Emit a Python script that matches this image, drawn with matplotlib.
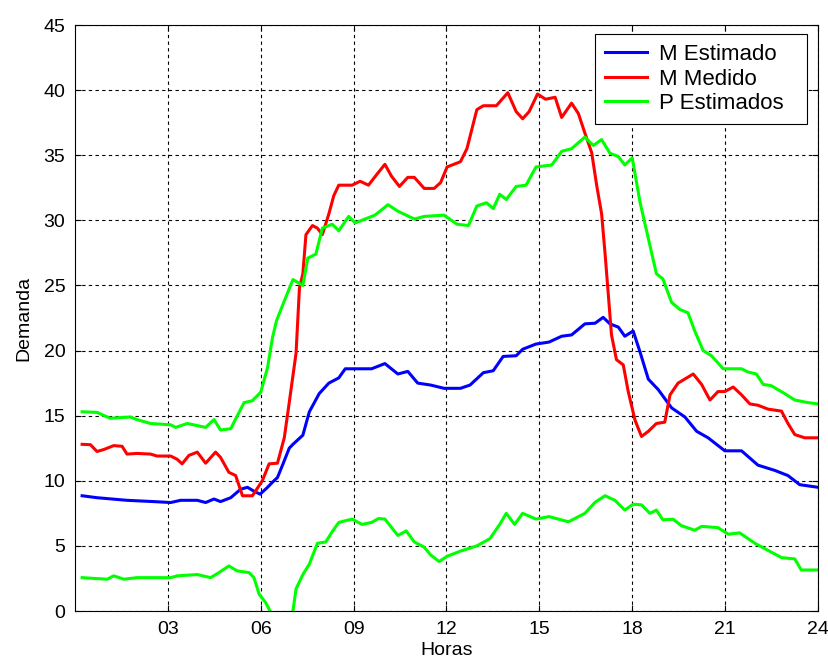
import numpy as np
import matplotlib
matplotlib.use("Agg")
import matplotlib.pyplot as plt

# ---------------------------------------------------
# DATA
# ---------------------------------------------------

xticks = [3, 6, 9, 12, 15, 18, 21, 24]
xtick_labels = ["03", "06", "09", "12", "15", "18", "21", "24"]
yticks = [0, 5, 10, 15, 20, 25, 30, 35, 40, 45]

# M Estimado
est_h = [0.23, 0.71, 1.68, 2.55, 3.09, 3.41, 3.95, 4.22, 4.49, 4.7, 5.03, 5.35,
         5.57, 5.78, 5.98, 6.22, 6.4, 6.54, 6.72, 6.92, 7.04, 7.36, 7.57, 7.89,
         8.2, 8.52, 8.73, 9.58, 10.01, 10.43, 10.75, 11.07, 11.49, 11.92, 12.45,
         12.76, 13.19, 13.51, 13.83, 14.25, 14.46, 14.89, 15.31, 15.72, 16.04,
         16.47, 16.8, 17.06, 17.28, 17.55, 17.76, 18.03, 18.25, 18.52, 18.84,
         19.27, 19.7, 20.08, 20.45, 20.99, 21.53, 22.06, 22.6, 23.03, 23.41, 24.0]
est_v = [8.85, 8.7, 8.5, 8.4, 8.33, 8.5, 8.5, 8.33, 8.6, 8.4, 8.7, 9.35,
         9.5, 9.2, 8.97, 9.5, 9.94, 10.25, 11.3, 12.5, 12.8, 13.5, 15.3, 16.7,
         17.5, 17.9, 18.6, 18.6, 19.0, 18.2, 18.4, 17.5, 17.35, 17.1, 17.1,
         17.35, 18.3, 18.45, 19.55, 19.6, 20.1, 20.5, 20.65, 21.1, 21.2,
         22.05, 22.1, 22.55, 22.05, 21.8, 21.1, 21.5, 19.9, 17.8, 17.0,
         15.6, 14.9, 13.8, 13.3, 12.3, 12.3, 11.2, 10.8, 10.4, 9.7, 9.5]

# M Medido
med_h = [0.23, 0.5, 0.71, 0.93, 1.25, 1.52, 1.68, 2.0, 2.44, 2.65, 3.09, 3.3,
         3.46, 3.68, 3.95, 4.22, 4.54, 4.7, 4.97, 5.19, 5.41, 5.73, 6.05, 6.27,
         6.54, 6.76, 6.92, 7.14, 7.25, 7.36, 7.46, 7.67, 7.83, 7.99, 8.2, 8.36,
         8.52, 8.95, 9.21, 9.48, 9.74, 10.01, 10.22, 10.48, 10.75, 10.96, 11.28,
         11.6, 11.81, 12.02, 12.45, 12.66, 12.98, 13.19, 13.61, 13.98, 14.25,
         14.46, 14.67, 14.94, 15.2, 15.51, 15.72, 16.04, 16.26, 16.47, 16.69,
         16.85, 17.01, 17.12, 17.23, 17.33, 17.49, 17.71, 17.87, 18.09, 18.3,
         18.52, 18.78, 19.05, 19.22, 19.48, 19.97, 20.24, 20.51, 20.77, 20.99,
         21.26, 21.53, 21.8, 22.06, 22.39, 22.82, 23.03, 23.25, 23.57, 24.0]
med_v = [12.8, 12.77, 12.25, 12.4, 12.7, 12.65, 12.05, 12.1, 12.05, 11.9, 11.9, 11.65,
         11.3, 11.95, 12.2, 11.35, 12.2, 11.8, 10.65, 10.4, 8.85, 8.85, 10.0, 11.3,
         11.35, 13.3, 16.0, 19.8, 24.8, 25.9, 28.9, 29.6, 29.4, 28.9, 30.5, 31.9,
         32.7, 32.7, 33.0, 32.7, 33.5, 34.3, 33.4, 32.6, 33.3, 33.3, 32.45,
         32.45, 32.9, 34.1, 34.5, 35.5, 38.5, 38.8, 38.8, 39.8, 38.35,
         37.8, 38.35, 39.7, 39.3, 39.45, 37.9, 39.0, 38.2, 36.7, 35.2,
         32.7, 30.5, 27.5, 24.2, 21.2, 19.3, 18.9, 16.85, 14.65, 13.4,
         13.8, 14.4, 14.5, 16.6, 17.5, 18.2, 17.4, 16.2, 16.85, 16.85,
         17.2, 16.6, 15.9, 15.8, 15.5, 15.35, 14.4, 13.55, 13.3, 13.3]

# P Estimados (upper band)
p_up_h = [0.23, 0.71, 1.14, 1.79, 2.0, 2.44, 3.09, 3.25, 3.63, 4.22, 4.49, 4.7,
          5.03, 5.46, 5.73, 6.0, 6.22, 6.38, 6.51, 6.76, 7.04, 7.36, 7.52, 7.78,
          7.99, 8.31, 8.52, 8.84, 9.05, 9.69, 10.11, 10.43, 10.96, 11.28, 11.92,
          12.34, 12.71, 12.98, 13.29, 13.51, 13.72, 13.93, 14.25, 14.57, 14.89,
          15.4, 15.72, 16.04, 16.47, 16.74, 17.01, 17.28, 17.55, 17.76, 18.0,
          18.25, 18.52, 18.78, 18.99, 19.27, 19.54, 19.8, 20.02, 20.29, 20.56,
          20.94, 21.53, 21.74, 22.01, 22.23, 22.49, 22.92, 23.25, 23.68, 24.0]
p_up_v = [15.3, 15.25, 14.8, 14.9, 14.7, 14.4, 14.3, 14.1, 14.4, 14.1, 14.7, 13.9,
          14.0, 16.0, 16.15, 16.8, 18.7, 21.0, 22.3, 23.8, 25.45, 25.0, 27.1, 27.4,
          29.4, 29.7, 29.2, 30.3, 29.8, 30.4, 31.2, 30.7, 30.1, 30.3, 30.4,
          29.7, 29.6, 31.1, 31.35, 30.9, 32.0, 31.6, 32.6, 32.7, 34.1,
          34.25, 35.3, 35.5, 36.4, 35.75, 36.2, 35.15, 34.9, 34.25, 34.8,
          31.4, 28.6, 25.9, 25.5, 23.7, 23.15, 22.9, 21.5, 20.0, 19.6,
          18.6, 18.6, 18.35, 18.2, 17.4, 17.3, 16.7, 16.2, 16.0, 15.9]

# P Estimados (lower band)
p_lo_h = [0.23, 1.04, 1.25, 1.58, 2.0, 3.09, 3.3, 3.95, 4.38, 4.65, 4.97, 5.24,
          5.62, 5.78, 5.95, 6.16, 6.27, 6.5, 6.8, 7.04, 7.14, 7.36, 7.57, 7.83,
          8.1, 8.31, 8.52, 8.95, 9.27, 9.58, 9.8, 10.01, 10.43, 10.7, 10.96,
          11.28, 11.49, 11.76, 12.02, 12.45, 12.98, 13.4, 13.72, 13.93, 14.2,
          14.46, 14.89, 15.31, 15.94, 16.47, 16.8, 17.12, 17.44, 17.76, 18.03,
          18.3, 18.57, 18.78, 18.99, 19.32, 19.59, 20.02, 20.24, 20.77, 21.1,
          21.47, 21.96, 22.39, 22.82, 23.25, 23.46, 24.0]
p_lo_v = [2.56, 2.44, 2.7, 2.44, 2.56, 2.56, 2.7, 2.8, 2.56, 2.95, 3.46, 3.08,
          2.95, 2.56, 1.28, 0.64, 0.13, -0.8, -0.8, 0.0, 1.7, 2.8, 3.6, 5.2,
          5.3, 6.1, 6.8, 7.06, 6.65, 6.8, 7.1, 7.06, 5.8, 6.15, 5.3,
          4.9, 4.3, 3.8, 4.2, 4.6, 5.0, 5.55, 6.65, 7.5, 6.65,
          7.5, 7.06, 7.25, 6.85, 7.5, 8.35, 8.85, 8.5, 7.75, 8.2,
          8.15, 7.5, 7.75, 7.0, 7.05, 6.55, 6.2, 6.5, 6.4, 5.9,
          6.0, 5.2, 4.65, 4.1, 4.0, 3.15, 3.15]

# ---------------------------------------------------
# PLOT
# ---------------------------------------------------

plt.rcParams['font.family'] = ['Liberation Sans', 'DejaVu Sans']

fig = plt.figure(figsize=(8.29, 6.66), dpi=100)
ax = fig.add_axes([75 / 829, 55 / 666, 743 / 829, 586 / 666])

ax.plot(est_h, est_v, color=(0, 0, 1), lw=2.2, label="M Estimado")
ax.plot(med_h, med_v, color=(1, 0, 0), lw=2.2, label="M Medido")
ax.plot(p_up_h, p_up_v, color=(0, 1, 0), lw=2.2, label="P Estimados")
ax.plot(p_lo_h, p_lo_v, color=(0, 1, 0), lw=2.2)

ax.set_xlim(0, 24)
ax.set_ylim(0, 45)
ax.set_xticks(xticks)
ax.set_xticklabels(xtick_labels)
ax.set_yticks(yticks)

ax.grid(True, color='black', linestyle=(0, (3, 3)), linewidth=0.8)
ax.tick_params(direction='in', top=True, right=True, length=4,
               labelsize=14, pad=7)
for s in ax.spines.values():
    s.set_linewidth(0.8)

ax.set_xlabel("Horas", fontsize=14, labelpad=3)
ax.set_ylabel("Demanda", fontsize=14, labelpad=8)

# legend box stretched to the width MATLAB used
leg = ax.legend(loc='upper left', bbox_to_anchor=(0.6999, 0.6, 0.2853, 0.3846),
                mode='expand', borderaxespad=0, fontsize=16, fancybox=False,
                framealpha=1, edgecolor='black', handlelength=1.9,
                labelspacing=0.16, handletextpad=0.55, borderpad=0.45)
leg.get_frame().set_linewidth(0.8)

plt.savefig("out.png", dpi=100)
